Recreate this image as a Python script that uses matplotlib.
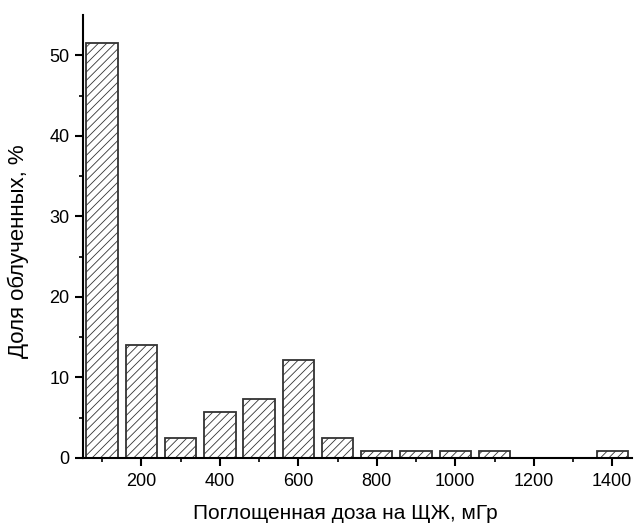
import matplotlib.pyplot as plt
import numpy as np

plt.rcParams['font.family'] = ['Liberation Sans', 'DejaVu Sans']
plt.rcParams['hatch.linewidth'] = 0.6

dose = np.array([100, 200, 300, 400, 500, 600, 700, 800, 900, 1000, 1100, 1200, 1300, 1400])
share = np.array([51.6, 14.0, 2.5, 5.75, 7.35, 12.2, 2.5, 0.82, 0.82, 0.82, 0.82, 0, 0, 0.82])

fig = plt.figure(figsize=(6.35, 5.25), dpi=100)
ax = fig.add_axes([0.130, 0.128, 0.865, 0.843])

ax.bar(dose, share, width=80, color='white', edgecolor='#333333',
       linewidth=1.3, hatch='////')

ax.set_xlim(50, 1450)
ax.set_ylim(0, 55)
ax.set_xticks([200, 400, 600, 800, 1000, 1200, 1400])
ax.set_xticks(np.arange(100, 1450, 100), minor=True)
ax.set_yticks([0, 10, 20, 30, 40, 50])
ax.set_yticks(np.arange(5, 55, 10), minor=True)

for s in ['top', 'right']:
    ax.spines[s].set_visible(False)
for s in ['left', 'bottom']:
    ax.spines[s].set_linewidth(1.5)

ax.tick_params(axis='both', which='major', direction='out', length=6, width=1.5, labelsize=13)
ax.tick_params(axis='x', which='major', pad=5)
ax.tick_params(axis='both', which='minor', direction='out', length=3, width=1.2)

ax.set_xlabel('Поглощенная доза на ЩЖ, мГр', fontsize=15)
ax.set_ylabel('Доля облученных, %', fontsize=16)
ax.xaxis.set_label_coords(0.478, -0.105)
ax.yaxis.set_label_coords(-0.098, 0.467)

fig.savefig('out.png', dpi=100)
